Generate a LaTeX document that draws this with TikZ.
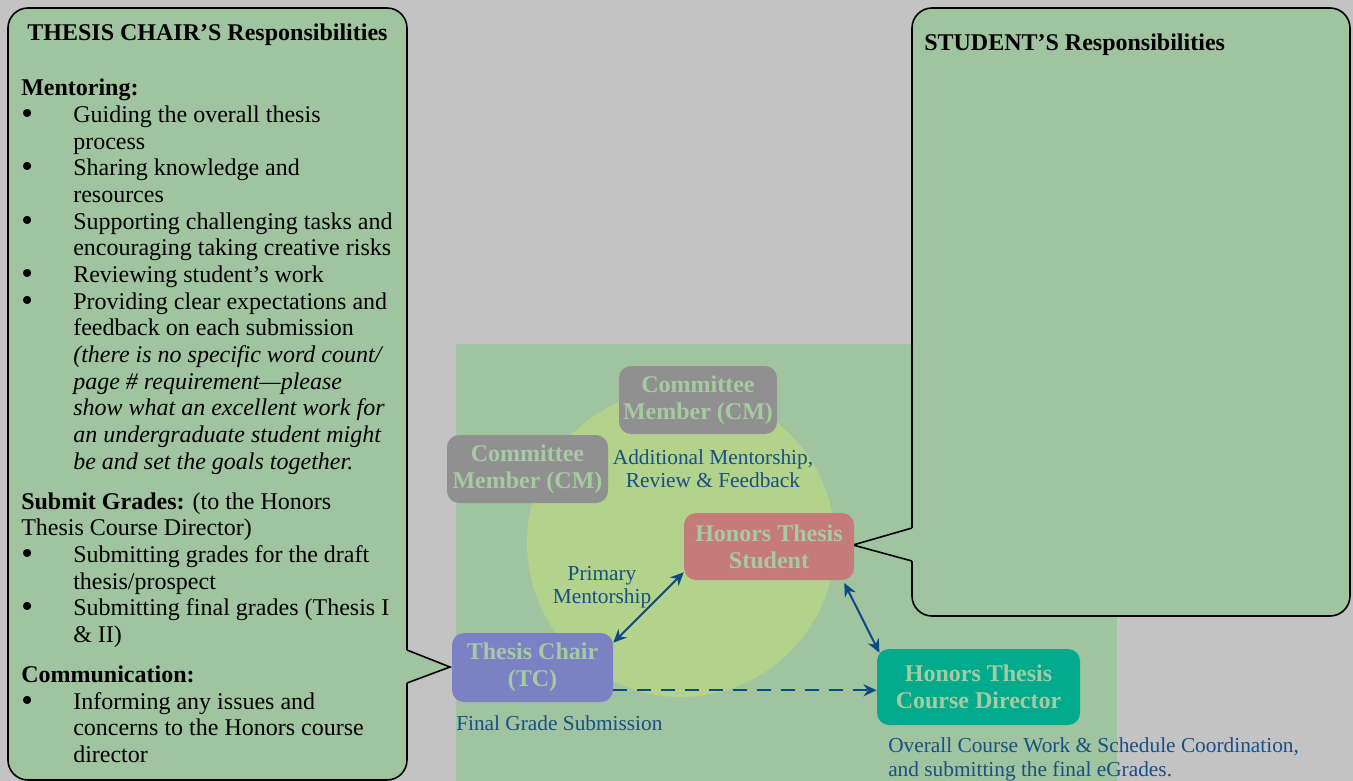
\documentclass[tikz,border=0pt]{standalone}
\usepackage{fontspec}
\setmainfont{Liberation Serif}
\usetikzlibrary{arrows.meta}

\definecolor{bggray}{HTML}{C3C3C3}
\definecolor{panelgreen}{HTML}{A0C49F}
\definecolor{circlegreen}{HTML}{B3D28B}
\definecolor{cmgray}{HTML}{909090}
\definecolor{studentred}{HTML}{C57B78}
\definecolor{chairblue}{HTML}{7C81C4}
\definecolor{directorteal}{HTML}{00AB8D}
\definecolor{roletext}{HTML}{A6CBA2}
\definecolor{noteblue}{HTML}{174F86}
\definecolor{linkblue}{HTML}{0D4A85}

\tikzset{
  role/.style={rounded corners=9pt, inner sep=0pt, align=center,
    font=\bfseries\fontsize{18}{20}\selectfont, text=roletext},
  note/.style={text=noteblue, inner sep=0pt, font=\fontsize{16}{17}\selectfont},
  link/.style={draw=linkblue, line width=1.5pt,
    {Stealth[length=10pt,width=9pt]}-{Stealth[length=10pt,width=9pt]}},
  callout/.style={draw=black, line width=1.2pt, fill=panelgreen},
}

\newcommand{\bigbullet}{\raisebox{-1.5pt}{\fontsize{25}{20}\selectfont\textbullet}}
\newcommand{\bul}[1]{\par\noindent\hangindent=39pt\hangafter=1%
  \makebox[39pt][l]{\bigbullet}#1}

\begin{document}
\begin{tikzpicture}[x=0.75pt,y=-0.75pt]
% background
\fill [bggray] (0,0) rectangle (1353,781);
\useasboundingbox (0,0) rectangle (1353,781);
% panel and circle
\fill [panelgreen]  (456,344) rectangle (1117,781);
\fill [circlegreen] (681,543) circle (154);
% left callout
\draw [callout, rounded corners=15pt] (8,8) rectangle (407,780);
\fill [panelgreen] (404,650) -- (407,650) -- (450,667) -- (407,683) -- (404,683) -- cycle;
\draw [line width=1.2pt] (407,650) -- (450,667) -- (407,683);
% right callout
\draw [callout, rounded corners=15pt] (912,8) rectangle (1350,616);
\fill [panelgreen] (915,528) -- (912,528) -- (853,545) -- (912,561) -- (915,561) -- cycle;
\draw [line width=1.2pt] (912,528) -- (853,545) -- (912,561);
% callout texts
\node [inner sep=0pt, font=\bfseries\fontsize{18}{20}\selectfont] (chairtitle) at (207.5,35)
  {THESIS CHAIR’S Responsibilities};
\node [anchor=north west, inner sep=0pt, font=\fontsize{18}{20}\selectfont] (chairlist) at (21,79)
  {\parbox[t]{300pt}{\raggedright
  \textbf{Mentoring:}
  \bul{Guiding the overall thesis\newline process}
  \bul{Sharing knowledge and\newline resources}
  \bul{Supporting challenging tasks and\newline encouraging taking creative risks}
  \bul{Reviewing student’s work}
  \bul{Providing clear expectations and\newline feedback on each submission\newline
    \textit{(there is no specific word count/\newline page \# requirement—please\newline
    show what an excellent work for\newline an undergraduate student might\newline
    be and set the goals together.}}
  \par\vspace{10pt}\noindent
  \textbf{Submit Grades:} (to the Honors\newline Thesis Course Director)
  \bul{Submitting grades for the draft\newline thesis/prospect}
  \bul{Submitting final grades (Thesis I\newline \& II)}
  \par\vspace{10pt}\noindent
  \textbf{Communication:}
  \bul{Informing any issues and\newline concerns to the Honors course\newline director}}};
\node [anchor=west, inner sep=0pt, font=\bfseries\fontsize{18}{20}\selectfont] (studenttitle)
  at (924,45) {STUDENT’S Responsibilities};
% roles
\node [role, fill=cmgray, minimum width=118.5pt, minimum height=51pt] (cmtop) at (698,400)
  {Committee\\Member (CM)};
\node [role, fill=cmgray, minimum width=120.75pt, minimum height=51pt] (cmleft) at (527.5,469)
  {Committee\\Member (CM)};
\node [role, fill=studentred, minimum width=127.5pt, minimum height=50.25pt] (student) at (769,546.5)
  {Honors Thesis\\Student};
\node [role, fill=chairblue, minimum width=120.75pt, minimum height=51.75pt] (chair) at (532.5,667.5)
  {Thesis Chair\\(TC)};
\node [role, fill=directorteal, minimum width=152.25pt, minimum height=57pt] (director) at (978.5,687)
  {Honors Thesis\\Course Director};
% labels
\node [note, align=center] (review)  at (713,469) {Additional Mentorship,\\Review \& Feedback};
\node [note, align=center] (primary) at (602,587) {Primary\\Mentorship};
\node [note, anchor=west]  (final)   at (456,723) {Final Grade Submission};
\node [note, anchor=west, align=left, font=\fontsize{16}{17.5}\selectfont] (overall) at (888,759.5)
  {Overall Course Work \& Schedule Coordination,\\and submitting the final eGrades.};
% links
\draw [link] ([yshift=-7.5pt]chair.north east) -- ([yshift=6pt]student.south west);
\draw [link] ([xshift=-7.5pt,yshift=-2pt]student.south east) -- ([xshift=2pt,yshift=-3pt]director.north west);
\draw [draw=linkblue, line width=1.5pt, dash pattern=on 10pt off 8pt, -{Stealth[length=10pt,width=9pt]}]
  ([yshift=9pt]chair.south east) -- ([yshift=9pt]chair.south east -| director.west);
\end{tikzpicture}
\end{document}
